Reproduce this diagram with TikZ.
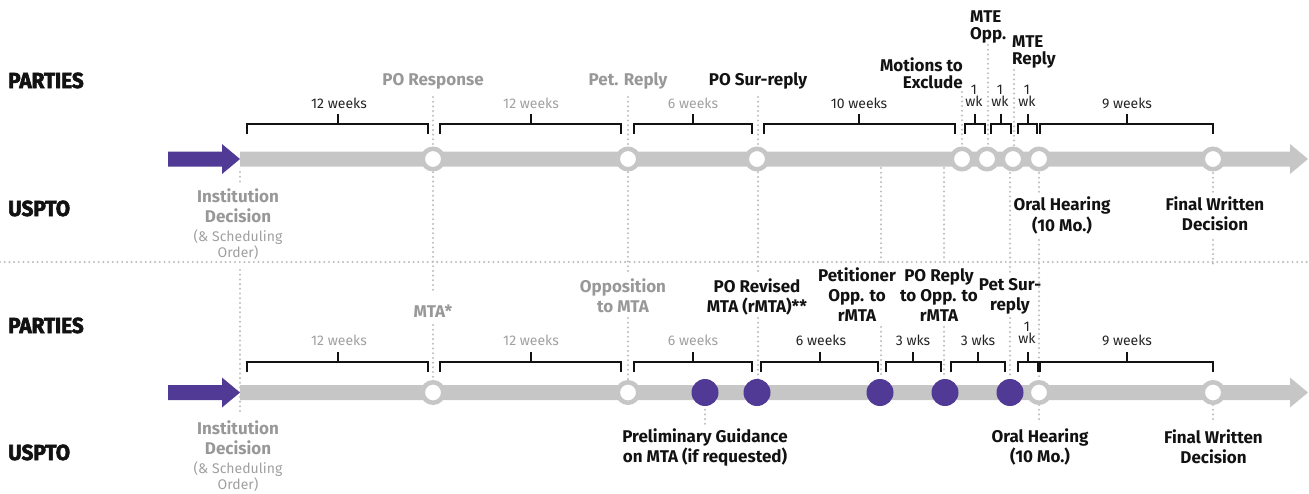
\documentclass[tikz,border=0pt]{standalone}
\usepackage{fontspec}
\setmainfont{Fira Sans}
\newfontfamily\heavyfont{Fira Sans}[FakeStretch=0.95,FakeBold=2.5]
\definecolor{bargray}{RGB}{197,198,197}
\definecolor{txtgray}{RGB}{152,152,152}
\definecolor{smgray}{RGB}{160,160,160}
\definecolor{dotgray}{RGB}{190,190,190}
\definecolor{purp}{RGB}{80,58,150}
\definecolor{ink}{RGB}{18,18,18}
\definecolor{ink2}{RGB}{35,35,35}
\newcommand\tlbracket[4]{%
  \draw[brk] (#1,#4+10) -- (#1,#4) -- (#2,#4) -- (#2,#4+10);
  \draw[brk] (#3,#4) -- (#3,#4-10);}
\begin{document}
\begin{tikzpicture}[x=1pt,y=-1pt,
  lbl/.style={font=\fontsize{17}{20}\selectfont\bfseries, inner sep=0pt, anchor=base, align=center},
  gl/.style={lbl, text=txtgray},
  bl/.style={lbl, text=ink},
  tight/.style={font=\fontsize{17}{17}\selectfont\bfseries},
  sm/.style={font=\fontsize{14}{16}\selectfont, inner sep=0pt, anchor=base, align=center, text=ink2},
  smg/.style={sm, text=smgray},
  wk/.style={sm, font=\fontsize{14}{12}\selectfont},
  hd/.style={font=\heavyfont\bfseries\fontsize{21.8}{24}\selectfont, anchor=base west, inner sep=0pt, text=ink},
  dots/.style={dotgray, line width=2.3pt, dash pattern=on 0pt off 4.7pt, line cap=round},
  brk/.style={line width=1.3pt, ink},
  oc/.style={circle, draw=bargray, line width=4.5pt, fill=white, minimum size=20.5pt, inner sep=0pt},
  pc/.style={circle, fill=purp, minimum size=27pt, inner sep=0pt}]
\useasboundingbox (0,0) rectangle (1309,493);
% ---------- dotted guide lines ----------
\draw[dots] (0,262) -- (1309,262);
\draw[dots] (240,172) -- (240,182);
\draw[dots] (240,270) -- (240,413);
\draw[dots] (433,97) -- (433,293);
\draw[dots] (433,325) -- (433,380);
\draw[dots] (628,97) -- (628,272);
\draw[dots] (628,318) -- (628,380);
\draw[dots] (758,97) -- (758,272);
\draw[dots] (758,318) -- (758,380);
\draw[dots] (881,168) -- (881,265);
\draw[dots] (881,327) -- (881,378);
\draw[dots] (944,168) -- (944,265);
\draw[dots] (944,327) -- (944,378);
\draw[dots] (962,92) -- (962,150);
\draw[dots] (988,45) -- (988,150);
\draw[dots] (1014,70) -- (1014,150);
\draw[dots] (1010,173) -- (1010,276);
\draw[dots] (1010,318) -- (1010,378);
\draw[dots] (1039,173) -- (1039,195);
\draw[dots] (1039,240) -- (1039,380);
\draw[dots] (1039,405) -- (1039,422);
\draw[dots] (1213,173) -- (1213,195);
\draw[dots] (1213,240) -- (1213,265);
\draw[dots] (1213,405) -- (1213,420);
\draw[dots] (705,405) -- (705,425);
% ---------- timeline bars ----------
\foreach \y in {159,392.5}{
  \fill[bargray] (240,\y-7.5) -- (1290,\y-7.5) -- (1290,\y-15) -- (1308,\y) -- (1290,\y+15) -- (1290,\y+7.5) -- (240,\y+7.5) -- cycle;
  \fill[purp] (168,\y-7.5) -- (222,\y-7.5) -- (222,\y-15) -- (240,\y) -- (222,\y+15) -- (222,\y+7.5) -- (168,\y+7.5) -- cycle;
}
% ---------- top milestones ----------
\node[oc] (t1) at (433,159) {};
\node[oc] (t2) at (628,159) {};
\node[oc] (t3) at (757,159) {};
\node[oc] (t4) at (962,159) {};
\node[oc] (t5) at (987,159) {};
\node[oc] (t6) at (1013,159) {};
\node[oc] (t7) at (1039,159) {};
\node[oc] (t8) at (1213,159) {};
% ---------- bottom milestones ----------
\node[oc] (b1) at (433,392.5) {};
\node[oc] (b2) at (628,392.5) {};
\node[pc] (b3) at (705,392.5) {};
\node[pc] (b4) at (757,392.5) {};
\node[pc] (b5) at (880,392.5) {};
\node[pc] (b6) at (945,392.5) {};
\node[pc] (b7) at (1010,392.5) {};
\node[oc] (b8) at (1039,392.5) {};
\node[oc] (b9) at (1213,392.5) {};
% ---------- brackets ----------
\tlbracket{247}{428}{338}{124}
\tlbracket{440}{621}{531}{124}
\tlbracket{634}{752}{693}{124}
\tlbracket{764}{955}{859}{124}
\tlbracket{965}{985}{975}{124}
\tlbracket{991}{1011}{1001}{124}
\tlbracket{1018}{1037}{1028}{124}
\tlbracket{1040}{1213}{1127}{124}
\tlbracket{247}{428}{338}{362}
\tlbracket{440}{621}{531}{362}
\tlbracket{634}{752}{693}{362}
\tlbracket{761}{878}{820}{362}
\tlbracket{886}{941}{913}{362}
\tlbracket{951}{1005}{978}{362}
\tlbracket{1018}{1038}{1028}{362}
\tlbracket{1040}{1213}{1127}{362}
% ---------- row headers ----------
\node[hd] (p1) at (8,88) {PARTIES};
\node[hd] (u1) at (8,216) {USPTO};
\node[hd] (p2) at (8,333) {PARTIES};
\node[hd] (u2) at (8,460) {USPTO};
% ---------- top labels (multi-line nodes: base = last line) ----------
\node[gl] (l1) at (433,85) {PO Response};
\node[gl] (l2) at (628,85) {Pet. Reply};
\node[bl] (l3) at (758,85) {PO Sur-reply};
\node[bl, tight, anchor=base east, align=right] (l4) at (963,88) {Motions to\\Exclude};
\node[bl, tight, anchor=base west, align=left] (l5) at (970,39) {MTE\\Opp.};
\node[bl, tight, anchor=base west, align=left] (l6) at (1012,64) {MTE\\Reply};
\node[gl] (l7) at (238,222) {Institution\\Decision};
\node[smg] (l8) at (238,257) {(\& Scheduling\\Order)};
\node[bl, font=\fontsize{17}{21}\selectfont\bfseries] (l9) at (1062,231) {Oral Hearing\\(10 Mo.)};
\node[bl] (l10) at (1215,230) {Final Written\\Decision};
\node[sm] (s1) at (339,108) {12 weeks};
\node[smg] (s2) at (531,108) {12 weeks};
\node[smg] (s3) at (693,108) {6 weeks};
\node[sm] (s4) at (859,108) {10 weeks};
\node[wk] (s5) at (974,106) {1\\wk};
\node[wk] (s6) at (1000,106) {1\\wk};
\node[wk] (s7) at (1027,106) {1\\wk};
\node[sm] (s8) at (1127,108) {9 weeks};
% ---------- bottom labels ----------
\node[gl] (m1) at (433,317) {MTA*};
\node[gl] (m2) at (623,312) {Opposition\\to MTA};
\node[bl] (m3) at (757,312) {PO Revised\\MTA (rMTA)**};
\node[bl] (m4) at (857,321) {Petitioner\\Opp. to\\rMTA};
\node[bl] (m5) at (939,321) {PO Reply\\to Opp. to\\rMTA};
\node[bl] (m6) at (1010,310) {Pet Sur-\\reply};
\node[bl] (m7) at (705,462) {Preliminary Guidance\\on MTA (if requested)};
\node[bl] (m8) at (1040,462) {Oral Hearing\\(10 Mo.)};
\node[bl] (m9) at (1213.5,463) {Final Written\\Decision};
\node[gl] (m10) at (238,454.5) {Institution\\Decision};
\node[smg] (m11) at (238,489) {(\& Scheduling\\Order)};
\node[smg] (r1) at (339,345) {12 weeks};
\node[smg] (r2) at (531,345) {12 weeks};
\node[smg] (r3) at (693,345) {6 weeks};
\node[sm] (r4) at (821,345) {6 weeks};
\node[sm] (r5) at (913,345) {3 wks};
\node[sm] (r6) at (978,345) {3 wks};
\node[wk] (r7) at (1027,343) {1\\wk};
\node[sm] (r8) at (1127,345) {9 weeks};
\end{tikzpicture}
\end{document}
